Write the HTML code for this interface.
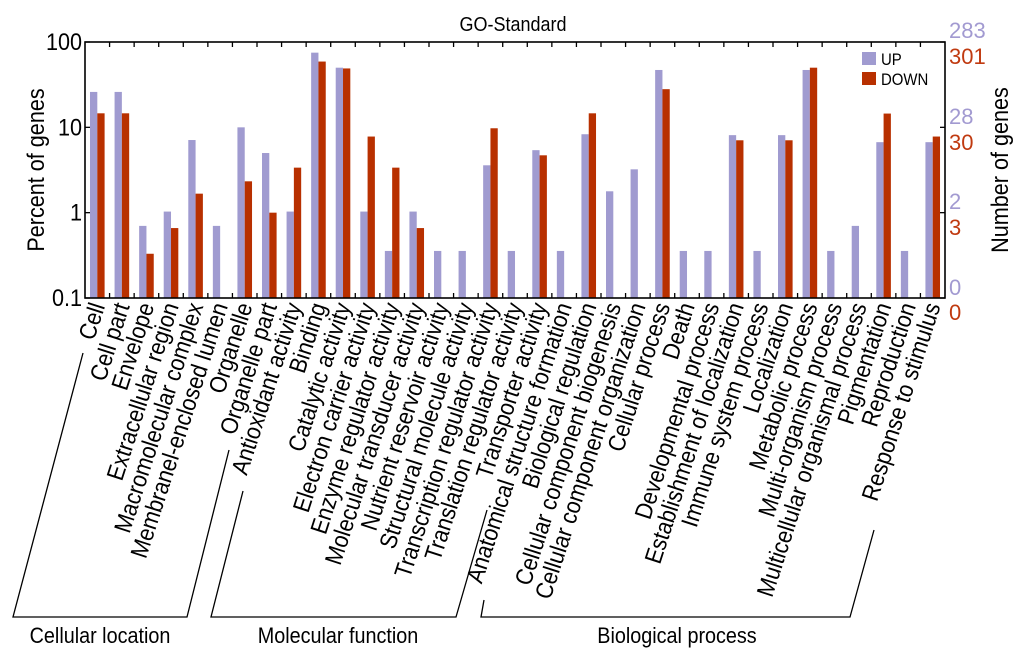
<!DOCTYPE html>
<html><head><meta charset="utf-8"><style>
html,body{margin:0;padding:0;background:#fff;}
svg{display:block;font-family:"Liberation Sans",Arial,sans-serif;}
</style></head><body>
<svg id="chart" width="1024" height="659" viewBox="0 0 1024 659">
<text transform="translate(513,31) scale(0.9,1)" font-size="20" text-anchor="middle">GO-Standard</text>
<g id="bars"></g>
<g id="axes"></g>
<g id="labels"></g>
<text transform="translate(44,170) rotate(-90) scale(0.9,1)" font-size="24" text-anchor="middle">Percent of genes</text>
<text transform="translate(1008,170) rotate(-90) scale(0.9,1)" font-size="24" text-anchor="middle">Number of genes</text>
<g font-size="22">
<text x="949" y="38" fill="#a29ad1">283</text>
<text x="949" y="64" fill="#c03a10">301</text>
<text x="949" y="124" fill="#a29ad1">28</text>
<text x="949" y="150" fill="#c03a10">30</text>
<text x="949" y="209" fill="#a29ad1">2</text>
<text x="949" y="235" fill="#c03a10">3</text>
<text x="949" y="295" fill="#a29ad1">0</text>
<text x="949" y="320" fill="#c03a10">0</text>
</g>
<g>
<rect x="862" y="52" width="14" height="13" fill="#a09bd0"/>
<text x="881" y="65" font-size="17" transform="translate(881,0) scale(0.88,1) translate(-881,0)">UP</text>
<rect x="862" y="72" width="14" height="13" fill="#b83000"/>
<text x="881" y="85" font-size="17" transform="translate(881,0) scale(0.88,1) translate(-881,0)">DOWN</text>
</g>
<g fill="none" stroke="#000" stroke-width="1.3">
<polyline points="83,353 13,617 187,617 229,450"/>
<polyline points="243,491 211,617 456,617 487,510"/>
<polyline points="484,600 481,617 850,617 874,530"/>
</g>
<text transform="translate(100,643) scale(0.9,1)" font-size="22" text-anchor="middle">Cellular location</text>
<text transform="translate(338,643) scale(0.9,1)" font-size="22" text-anchor="middle">Molecular function</text>
<text transform="translate(677,643) scale(0.9,1)" font-size="22" text-anchor="middle">Biological process</text>
</svg>
<script>
const categories = ["Cell","Cell part","Envelope","Extracellular region","Macromolecular complex","Membranel-enclosed lumen","Organelle","Organelle part","Antioxidant activity","Binding","Catalytic activity","Electron carrier activity","Enzyme regulator activity","Molecular transducer activity","Nutrient reservoir activity","Structural molecule activity","Transcription regulator activity","Translation regulator activity","Transporter activity","Anatomical structure formation","Biological regulation","Cellular component biogenesis","Cellular component organization","Cellular process","Death","Developmental process","Establishment of localization","Immune system process","Localization","Metabolic process","Multi-organism process","Multicellular organismal process","Pigmentation","Reproduction","Response to stimulus"];
const upValues = [26,26,0.70,1.03,7.1,0.70,10,5.0,1.03,75,50,1.03,0.356,1.03,0.356,0.356,3.59,0.356,5.4,0.356,8.3,1.78,3.22,47,0.356,0.356,8.1,0.356,8.1,47,0.356,0.70,6.7,0.356,6.7];
const downValues = [14.6,14.6,0.33,0.66,1.67,0,2.33,1.0,3.37,59,49,7.8,3.37,0.66,0,0,9.75,0,4.7,0,14.6,0,0,28,0,0,7.05,0,7.05,50,0,0,14.5,0,7.8];
const yTicks = [100,10,1,0.1];
const yTickLabels = ["100","10","1","0.1"];

const NS="http://www.w3.org/2000/svg";
const L=85,R=945,T=42,B=298;
const slot=(R-L)/categories.length;
function xScale(i){return L+slot*i;}
function yScale(v){return B-(B-T)*(Math.log10(v)+1)/3;}
function mk(tag,attrs,parent){const e=document.createElementNS(NS,tag);for(const k in attrs)e.setAttribute(k,attrs[k]);parent.appendChild(e);return e;}

const bars=document.getElementById('bars');
categories.forEach((c,i)=>{
  const x0=xScale(i);
  if(upValues[i]>0.1){
    const y=yScale(upValues[i]);
    const r=mk('rect',{x:x0+5,y:y,width:7.3,height:B-y,fill:'#a09bd0'},bars);
    
    
  }
  if(downValues[i]>0.1){
    const y=yScale(downValues[i]);
    const r=mk('rect',{x:x0+12.3,y:y,width:7.3,height:B-y,fill:'#b83000'},bars);
    
    
  }
});

const axes=document.getElementById('axes');
const frame=mk('rect',{x:L,y:T,width:R-L,height:B-T,fill:'none',stroke:'#000','stroke-width':1.6},axes);


for(let i=1;i<categories.length;i++){
  const x=xScale(i);
  mk('line',{x1:x,x2:x,y1:T,y2:T+5,stroke:'#000','stroke-width':1.3},axes);
  mk('line',{x1:x,x2:x,y1:B,y2:B-5,stroke:'#000','stroke-width':1.3},axes);
}
yTicks.forEach((v,i)=>{
  const y=yScale(v);
  mk('line',{x1:L,x2:L+5,y1:y,y2:y,stroke:'#000','stroke-width':1.3},axes);
  mk('line',{x1:R,x2:R-5,y1:y,y2:y,stroke:'#000','stroke-width':1.3},axes);
  const t=mk('text',{transform:`translate(${L-3},${y+8}) scale(0.9,1)`,'font-size':24,'text-anchor':'end'},axes);
  t.textContent=yTickLabels[i];
  
  
});

const labels=document.getElementById('labels');
categories.forEach((c,i)=>{
  const cx=xScale(i)+slot/2+8;
  const t=mk('text',{transform:`translate(${cx},306) rotate(-72) scale(0.9,1)`,'font-size':24,'text-anchor':'end'},labels);
  t.textContent=c;
  
  
});
</script>
</body></html>
